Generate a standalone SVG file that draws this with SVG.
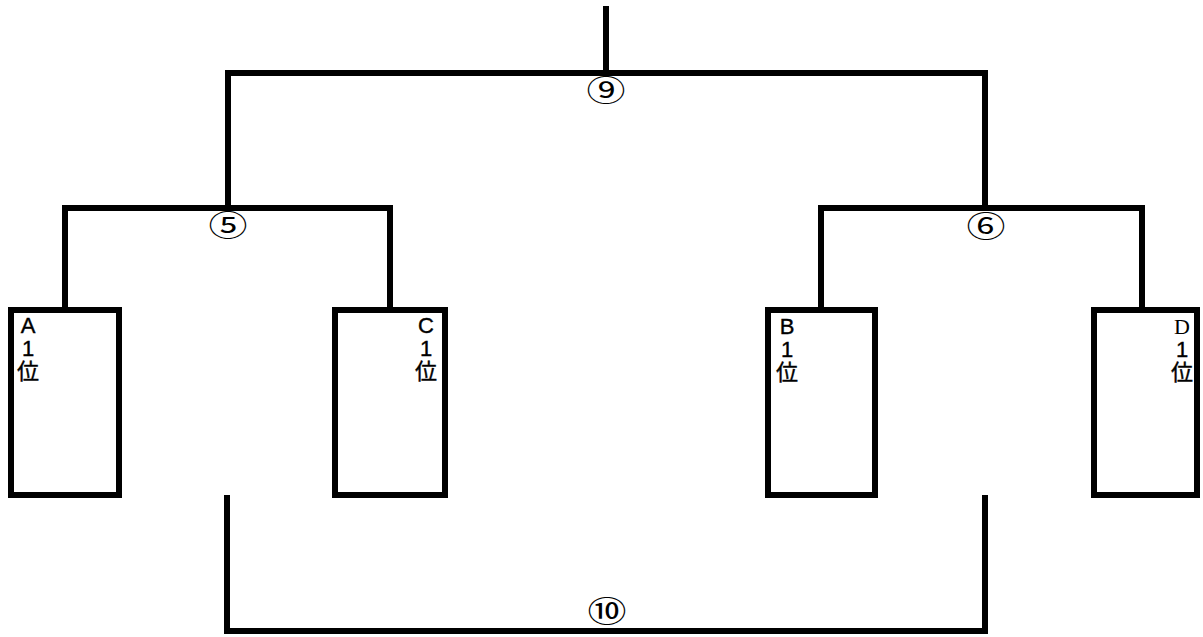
<svg xmlns="http://www.w3.org/2000/svg" width="1203" height="637" viewBox="0 0 1203 637">
<style>
.ln{fill:none;stroke:#000;stroke-width:6;stroke-linejoin:miter;stroke-linecap:butt}
.bx{fill:#fff;stroke:#000;stroke-width:6}
.t{font-family:"Liberation Sans","Noto Sans CJK JP",sans-serif;font-size:22px;fill:#000;text-anchor:middle;stroke:#000;stroke-width:0.4}
.ts{font-family:"Liberation Serif","Noto Sans CJK JP",serif;font-size:22px;fill:#000;text-anchor:middle}
.m{font-family:"Noto Sans CJK JP","DejaVu Sans",sans-serif;font-size:30px;fill:#000;text-anchor:middle}
</style>
<rect width="1203" height="637" fill="#fff"/>
<g id="connectors">
<path class="ln" d="M606 6 V73"/>
<path class="ln" d="M228 208 V73 H985 V208"/>
<path class="ln" d="M65 310 V208 H390 V310"/>
<path class="ln" d="M821 310 V208 H1142 V310"/>
<path class="ln" d="M227 495 V631 H985 V495"/>
</g>
<g id="match9"><text class="m" transform="translate(606 101) scale(1.3 1)">⑨</text></g>
<g id="match5"><text class="m" transform="translate(228 236) scale(1.3 1)">⑤</text></g>
<g id="match6"><text class="m" transform="translate(986 237) scale(1.3 1)">⑥</text></g>
<g id="match10"><text class="m" transform="translate(607 622) scale(1.3 1)">⑩</text></g>
<g id="nodeA">
<rect class="bx" x="11" y="310" width="108" height="185"/>
<text class="t" x="28" y="333">A</text>
<text class="t" x="28" y="356">1</text>
<text class="t" x="28" y="379">位</text>
</g>
<g id="nodeC">
<rect class="bx" x="335" y="310" width="110" height="185"/>
<text class="t" x="426" y="333">C</text>
<text class="t" x="426" y="356">1</text>
<text class="t" x="426" y="379">位</text>
</g>
<g id="nodeB">
<rect class="bx" x="768" y="310" width="107" height="185"/>
<text class="t" x="787" y="334">B</text>
<text class="t" x="787" y="357">1</text>
<text class="t" x="787" y="380">位</text>
</g>
<g id="nodeD">
<rect class="bx" x="1094" y="310" width="103" height="185"/>
<text class="ts" x="1182" y="334">D</text>
<text class="t" x="1182" y="357">1</text>
<text class="t" x="1182" y="380">位</text>
</g>
</svg>
